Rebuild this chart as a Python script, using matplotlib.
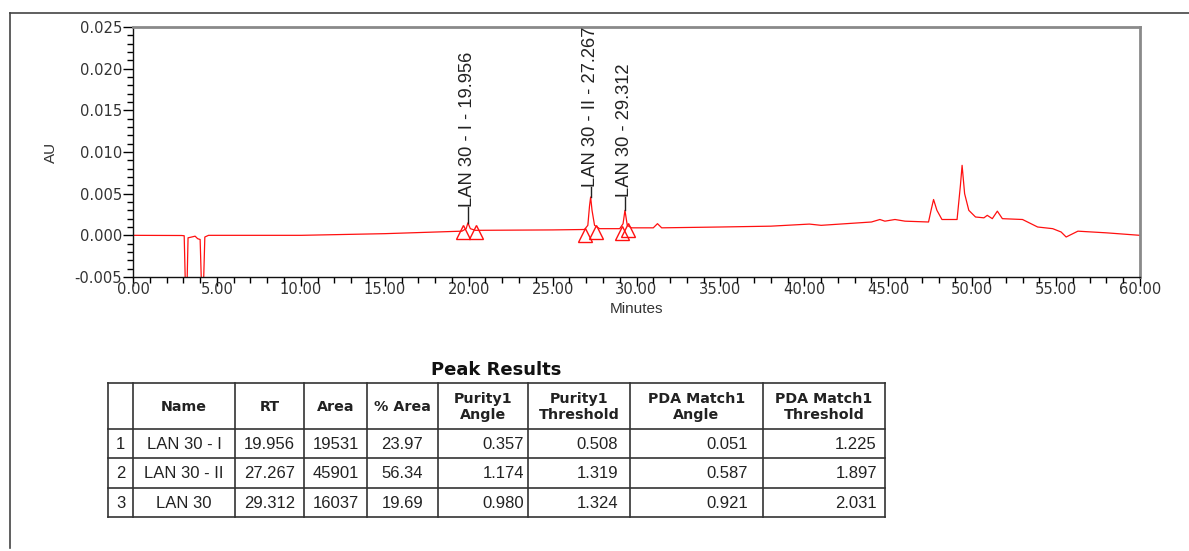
import matplotlib
matplotlib.use("Agg")
import matplotlib.pyplot as plt
import numpy as np
from matplotlib.ticker import MultipleLocator, FormatStrFormatter

# chromatogram trace (minutes, AU)
trace_time = [0.0, 2.9, 3.05, 3.12, 3.22, 3.28, 3.5, 3.7, 3.85, 4.0, 4.08, 4.2, 4.28, 4.5,
              10.0, 15.0, 19.6, 19.85, 19.956, 20.1, 20.4, 25.0, 26.9, 27.1, 27.2, 27.267,
              27.35, 27.5, 27.8, 29.0, 29.2, 29.312, 29.45, 29.7, 31.0, 31.25, 31.5, 35.0,
              38.0, 40.3, 41.0, 44.0, 44.5, 44.8, 45.4, 46.0, 47.4, 47.55, 47.7, 47.9, 48.2,
              49.1, 49.3, 49.4, 49.55, 49.8, 50.2, 50.7, 50.9, 51.2, 51.5, 51.8, 53.0, 53.4,
              53.9, 54.8, 55.3, 55.6, 55.9, 56.3, 58.0, 60.0]
trace_au = [0.0, -0.00002, -0.00005, -0.006, -0.006, -0.0003, -0.0002, -0.0001, -0.0004,
            -0.0005, -0.006, -0.006, -0.0002, 0.0, 0.0, 0.0002, 0.0005, 0.0008, 0.0015,
            0.0008, 0.0006, 0.00065, 0.0007, 0.0012, 0.0035, 0.0046, 0.0030, 0.0012, 0.0008,
            0.0008, 0.0014, 0.0030, 0.0012, 0.0009, 0.0009, 0.0014, 0.0009, 0.0010, 0.0011,
            0.00135, 0.0012, 0.0016, 0.0019, 0.0017, 0.0019, 0.0017, 0.0016, 0.0030, 0.0043,
            0.0030, 0.0019, 0.0019, 0.0060, 0.0084, 0.0050, 0.0030, 0.0022, 0.0021, 0.0024,
            0.0020, 0.0029, 0.0020, 0.0019, 0.0015, 0.0010, 0.0008, 0.0004, -0.0002, 0.0001,
            0.0005, 0.0003, 0.0]

# integration start/end marks
tri_time = [19.67, 20.45, 26.95, 27.6, 29.15, 29.5]
tri_au = [0.0004, 0.0004, 0.0000, 0.0004, 0.0003, 0.0006]

# peak results
peak_no = ["1", "2", "3"]
peak_names = ["LAN 30 - I", "LAN 30 - II", "LAN 30"]
peak_rt = [19.956, 27.267, 29.312]
peak_area = [19531, 45901, 16037]
peak_pct_area = [23.97, 56.34, 19.69]
purity_angle = [0.357, 1.174, 0.980]
purity_threshold = [0.508, 1.319, 1.324]
pda_angle = [0.051, 0.587, 0.921]
pda_threshold = [1.225, 1.897, 2.031]
headers = ["", "Name", "RT", "Area", "% Area", "Purity1\nAngle", "Purity1\nThreshold",
           "PDA Match1\nAngle", "PDA Match1\nThreshold"]

plt.rcParams['axes.unicode_minus'] = False
W, H = 1189, 551
fig = plt.figure(figsize=(W / 100, H / 100), dpi=100)
fig.patch.set_facecolor('white')

ax = fig.add_axes([133 / W, 1 - 277 / H, (1140 - 133) / W, (277 - 27) / H])
ax.plot(trace_time, trace_au, color='#ff1010', lw=0.9)
ax.plot(tri_time, tri_au, ls='none', marker='^', ms=10, mfc='none', mec='#ff1010', mew=1)

# peak labels with leader lines
label_bottom = [0.0034, 0.0058, 0.0046]
for name, rt, yb in zip(peak_names, peak_rt, label_bottom):
    apex = np.interp(rt, trace_time, trace_au)
    ax.plot([rt, rt], [apex, yb], color='#222222', lw=1)
    ax.text(rt, yb, f"{name} - {rt:.3f}", rotation=90, ha='center', va='bottom',
            fontsize=13.2, family='Liberation Sans', color='#222222', clip_on=True)

ax.set_xlim(0, 60)
ax.set_ylim(-0.005, 0.025)
ax.xaxis.set_major_locator(MultipleLocator(5))
ax.xaxis.set_minor_locator(MultipleLocator(1))
ax.yaxis.set_major_locator(MultipleLocator(0.005))
ax.yaxis.set_minor_locator(MultipleLocator(0.001))
ax.xaxis.set_major_formatter(FormatStrFormatter('%.2f'))
ax.yaxis.set_major_formatter(FormatStrFormatter('%.3f'))
ax.tick_params(axis='x', which='major', length=6.5, width=1, pad=-3.2,
               labelsize=10.6, labelcolor='#333333')
ax.tick_params(axis='x', which='minor', length=4.3, width=1)
ax.tick_params(axis='y', which='major', length=7.2, width=1, pad=0.5,
               labelsize=10.6, labelcolor='#333333')
ax.tick_params(axis='y', which='minor', length=4, width=1)
for s in ['left', 'bottom']:
    ax.spines[s].set_color('#111111')
    ax.spines[s].set_linewidth(1)
for s in ['top', 'right']:
    ax.spines[s].set_color('#8a8a8a')
    ax.spines[s].set_linewidth(2)
ax.set_xlabel("Minutes", fontsize=11, family='Liberation Sans', color='#333333', labelpad=4)
ax.set_ylabel("AU", fontsize=11, family='Liberation Sans', color='#333333', labelpad=12)

# overlay in pixel coordinates for frame and table
ov = fig.add_axes([0, 0, 1, 1], zorder=-1)
ov.set_xlim(0, W)
ov.set_ylim(H, 0)
ov.axis('off')
ov.plot([10, W], [13, 13], color='#444444', lw=1.2)
ov.plot([10, 10], [13, 548], color='#444444', lw=1.2)

col_x = [108, 133, 235, 304, 367, 438, 528, 630, 763, 885]
row_y = [383, 429, 458, 488, 517]
for x in col_x:
    ov.plot([x, x], [row_y[0], row_y[-1]], color='#333333', lw=1.2)
for y in row_y:
    ov.plot([col_x[0], col_x[-1]], [y, y], color='#333333', lw=1.2)

ov.text(496, 370, "Peak Results", ha='center', va='center', fontsize=13,
        fontweight='bold', family='DejaVu Sans', color='#111111')
for i, h in enumerate(headers):
    cx = (col_x[i] + col_x[i + 1]) / 2
    ov.text(cx, (row_y[0] + row_y[1]) / 2 + 1, h, ha='center', va='center', fontsize=10.3,
            fontweight='bold', family='DejaVu Sans', color='#222222', linespacing=1.15)

right_edge = [524, 618, 748, 877]
for r in range(3):
    cy = (row_y[r + 1] + row_y[r + 2]) / 2 + 1
    centred = [peak_no[r], peak_names[r], f"{peak_rt[r]:.3f}", f"{peak_area[r]}",
               f"{peak_pct_area[r]:.2f}"]
    for c, txt in enumerate(centred):
        cx = (col_x[c] + col_x[c + 1]) / 2
        ov.text(cx, cy, txt, ha='center', va='center', fontsize=12,
                family='Liberation Sans', color='#222222')
    right = [purity_angle[r], purity_threshold[r], pda_angle[r], pda_threshold[r]]
    for xr, v in zip(right_edge, right):
        ov.text(xr, cy, f"{v:.3f}", ha='right', va='center', fontsize=12,
                family='Liberation Sans', color='#222222')

fig.savefig("out.png", dpi=100, facecolor='white')
